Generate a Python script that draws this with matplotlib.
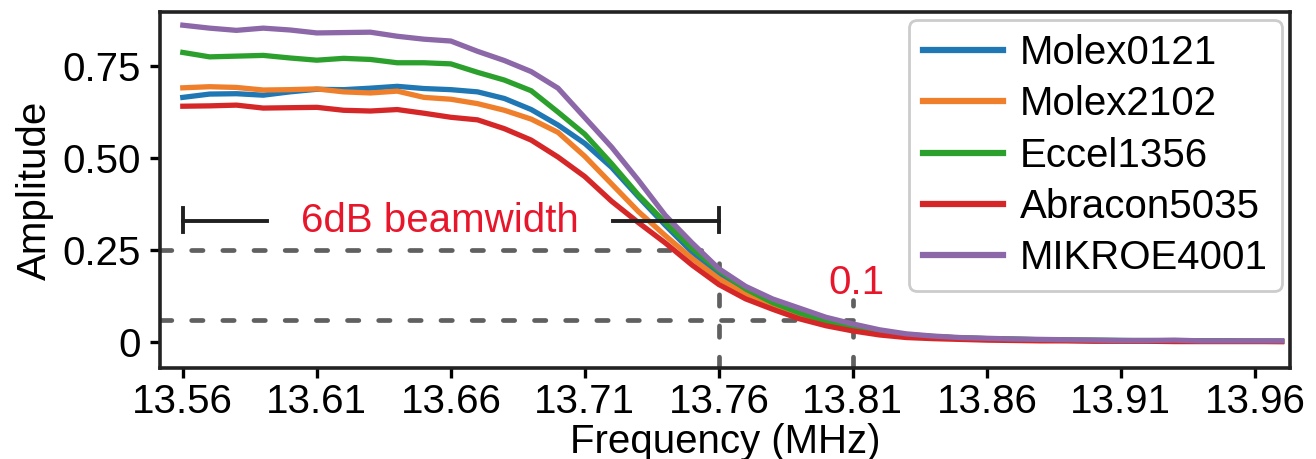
import numpy as np
import matplotlib.pyplot as plt

plt.rcParams['font.family'] = ['Liberation Sans', 'DejaVu Sans']

## data ##
freq = [13.56, 13.57, 13.58, 13.59, 13.60, 13.61, 13.62, 13.63, 13.64, 13.65,
        13.66, 13.67, 13.68, 13.69, 13.70, 13.71, 13.72, 13.73, 13.74, 13.75,
        13.76, 13.77, 13.78, 13.79, 13.80, 13.81, 13.82, 13.83, 13.84, 13.85,
        13.86, 13.87, 13.88, 13.89, 13.90, 13.91, 13.92, 13.93, 13.94, 13.95,
        13.96, 13.97]

molex0121 = [0.665, 0.674, 0.675, 0.671, 0.680, 0.687, 0.686, 0.690, 0.695, 0.689,
             0.686, 0.680, 0.662, 0.632, 0.590, 0.540, 0.475, 0.395, 0.318, 0.245,
             0.185, 0.145, 0.105, 0.078, 0.055, 0.040, 0.028, 0.020, 0.015, 0.012,
             0.010, 0.008, 0.007, 0.006, 0.005, 0.005, 0.004, 0.004, 0.004, 0.003,
             0.003, 0.003]
molex2102 = [0.691, 0.694, 0.692, 0.685, 0.686, 0.688, 0.680, 0.677, 0.682, 0.665,
             0.660, 0.648, 0.630, 0.606, 0.570, 0.505, 0.430, 0.355, 0.290, 0.228,
             0.173, 0.130, 0.098, 0.071, 0.050, 0.035, 0.024, 0.017, 0.013, 0.010,
             0.008, 0.007, 0.006, 0.005, 0.004, 0.004, 0.004, 0.003, 0.003, 0.003,
             0.003, 0.002]
eccel1356 = [0.787, 0.775, 0.777, 0.779, 0.772, 0.766, 0.771, 0.768, 0.759, 0.759,
             0.756, 0.733, 0.712, 0.683, 0.625, 0.565, 0.485, 0.400, 0.325, 0.255,
             0.195, 0.145, 0.108, 0.080, 0.057, 0.041, 0.029, 0.021, 0.016, 0.012,
             0.010, 0.009, 0.007, 0.006, 0.006, 0.005, 0.005, 0.004, 0.004, 0.004,
             0.003, 0.003]
abracon5035 = [0.641, 0.642, 0.644, 0.636, 0.637, 0.638, 0.630, 0.628, 0.632, 0.622,
               0.611, 0.604, 0.580, 0.549, 0.503, 0.450, 0.383, 0.325, 0.270, 0.210,
               0.157, 0.118, 0.090, 0.064, 0.045, 0.031, 0.020, 0.013, 0.010, 0.008,
               0.006, 0.005, 0.004, 0.004, 0.003, 0.003, 0.003, 0.002, 0.002, 0.002,
               0.002, 0.002]
mikroe4001 = [0.861, 0.853, 0.847, 0.853, 0.848, 0.840, 0.841, 0.842, 0.831, 0.823,
              0.818, 0.790, 0.765, 0.735, 0.690, 0.610, 0.530, 0.440, 0.345, 0.270,
              0.200, 0.152, 0.118, 0.093, 0.068, 0.050, 0.034, 0.023, 0.017, 0.013,
              0.011, 0.009, 0.008, 0.007, 0.006, 0.005, 0.005, 0.006, 0.004, 0.004,
              0.004, 0.004]

names = ["Molex0121", "Molex2102", "Eccel1356", "Abracon5035", "MIKROE4001"]
series = [molex0121, molex2102, eccel1356, abracon5035, mikroe4001]
colors = ["#1f77b4", "#ef7f2a", "#2ca02c", "#d62728", "#8c68a8"]

xticks = [13.56, 13.61, 13.66, 13.71, 13.76, 13.81, 13.86, 13.91, 13.96]
yticks = [0, 0.25, 0.50, 0.75]
ytick_labels = ["0", "0.25", "0.50", "0.75"]

fs = 29

fig = plt.figure(figsize=(13.16, 4.59), dpi=100)
ax = fig.add_axes([0.1216, 0.198, 0.8584, 0.776])

for name, vals, c in zip(names, series, colors):
    ax.plot(freq, vals, color=c, lw=3.8, label=name)

x0, x1 = 13.5515, 13.973
ax.set_xlim(x0, x1)
ax.set_ylim(-0.07, 0.897)

# dashed guide lines
gray = "#606060"
dash = dict(color=gray, lw=3.4, linestyle=(0, (2.4, 4.2)), dash_capstyle="round", zorder=1)
ax.plot([x0, 13.76], [0.25, 0.25], **dash)
ax.plot([x0, 13.81], [0.06, 0.06], **dash)
ax.plot([13.76, 13.76], [-0.07, 0.25], **dash)
ax.plot([13.81, 13.81], [-0.07, 0.115], **dash)

# beamwidth bracket
ax.plot([13.56, 13.5915], [0.33, 0.33], color="#202020", lw=2.8)
ax.plot([13.7205, 13.76], [0.33, 0.33], color="#202020", lw=2.8)
ax.plot([13.56, 13.56], [0.30, 0.365], color="#202020", lw=2.8)
ax.plot([13.76, 13.76], [0.30, 0.365], color="#202020", lw=2.8)
ax.text(13.656, 0.33, "6dB beamwidth", color="#e8162b", fontsize=fs,
        ha="center", va="center")
ax.text(13.8115, 0.11, "0.1", color="#e8162b", fontsize=fs, ha="center", va="bottom")

ax.set_xticks(xticks)
ax.set_xticklabels([f"{t:.2f}" for t in xticks])
ax.set_yticks(yticks)
ax.set_yticklabels(ytick_labels)
ax.tick_params(labelsize=fs, width=2.4, length=7, direction="out", pad=4)
ax.tick_params(axis="y", pad=7)
for s in ax.spines.values():
    s.set_linewidth(2.6)
    s.set_color("#222222")

ax.set_xlabel("Frequency (MHz)", fontsize=fs, labelpad=1)
ax.set_ylabel("Amplitude", fontsize=fs, labelpad=6)

leg = ax.legend(loc="upper right", fontsize=fs, handlelength=2.0, handletextpad=0.4,
                labelspacing=0.33, borderpad=0.35, borderaxespad=0.2,
                framealpha=1, fancybox=True)
leg.get_frame().set_edgecolor("#cccccc")
leg.get_frame().set_linewidth(2)
for l in leg.get_lines():
    l.set_linewidth(4.5)

fig.savefig("out.png", dpi=100)
